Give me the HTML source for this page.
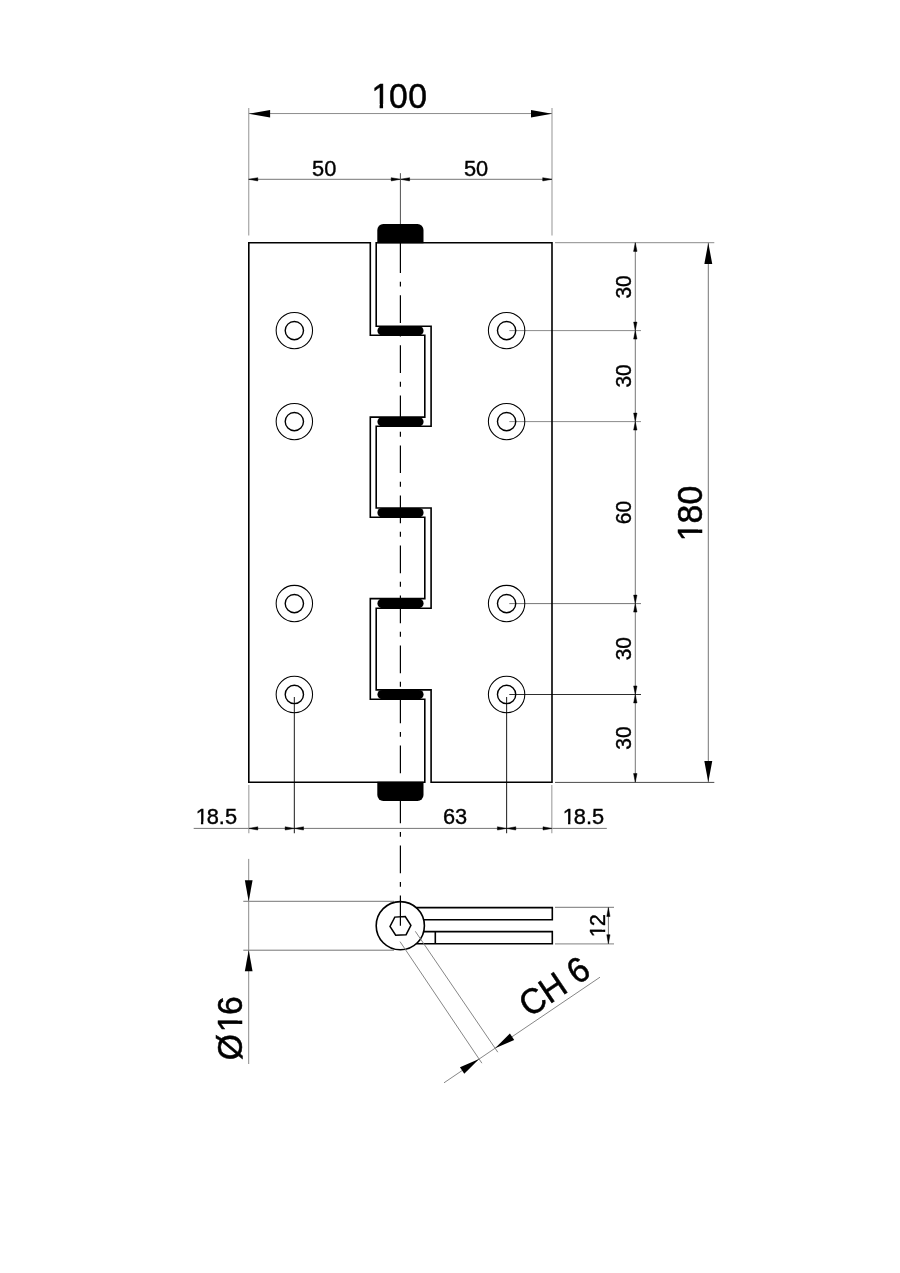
<!DOCTYPE html>
<html lang="en">
<head>
<meta charset="utf-8">
<title>Hinge 100x180 technical drawing</title>
<style>
html,body{margin:0;padding:0;background:#fff;}
body{width:900px;height:1273px;overflow:hidden;}
svg{display:block;will-change:transform;}
text{font-family:"Liberation Sans",sans-serif;fill:#000;}
</style>
</head>
<body>
<svg width="900" height="1273" viewBox="0 0 900 1273">
<line x1="248.70" y1="108.00" x2="248.70" y2="235.50" stroke="#adadad" stroke-width="1.3" />
<line x1="552.00" y1="107.90" x2="552.00" y2="235.50" stroke="#adadad" stroke-width="1.3" />
<line x1="248.80" y1="113.55" x2="552.00" y2="113.55" stroke="#8c8c8c" stroke-width="1.0" />
<polygon points="248.80,113.75 270.10,117.55 270.10,109.95" fill="#000"/>
<polygon points="552.00,113.75 531.00,109.95 531.00,117.55" fill="#000"/>
<line x1="248.80" y1="179.30" x2="552.00" y2="179.30" stroke="#6e6e6e" stroke-width="0.95" />
<polygon points="248.60,179.30 257.80,180.95 257.80,177.65" fill="#000" stroke="#000" stroke-width="0.45" stroke-linejoin="round"/>
<polygon points="400.40,179.30 391.20,177.65 391.20,180.95" fill="#000" stroke="#000" stroke-width="0.45" stroke-linejoin="round"/>
<polygon points="400.40,179.30 409.60,180.95 409.60,177.65" fill="#000" stroke="#000" stroke-width="0.45" stroke-linejoin="round"/>
<polygon points="551.90,179.30 542.70,177.65 542.70,180.95" fill="#000" stroke="#000" stroke-width="0.45" stroke-linejoin="round"/>
<line x1="555.00" y1="242.70" x2="714.30" y2="242.70" stroke="#8c8c8c" stroke-width="1.0" />
<line x1="555.00" y1="782.40" x2="714.30" y2="782.40" stroke="#4a4a4a" stroke-width="1.0" />
<line x1="635.30" y1="242.70" x2="635.30" y2="782.20" stroke="#6e6e6e" stroke-width="0.95" />
<line x1="708.30" y1="242.70" x2="708.30" y2="782.20" stroke="#6e6e6e" stroke-width="0.95" />
<polygon points="708.30,242.70 704.35,263.90 712.25,263.90" fill="#000"/>
<polygon points="708.30,782.20 712.25,761.00 704.35,761.00" fill="#000"/>
<polygon points="635.30,242.70 633.55,251.40 637.05,251.40" fill="#000" stroke="#000" stroke-width="0.45" stroke-linejoin="round"/>
<polygon points="635.30,782.20 637.05,773.50 633.55,773.50" fill="#000" stroke="#000" stroke-width="0.45" stroke-linejoin="round"/>
<line x1="509.30" y1="330.60" x2="641.00" y2="330.60" stroke="#8c8c8c" stroke-width="1.0" />
<polygon points="635.30,330.60 633.60,339.10 637.00,339.10" fill="#000" stroke="#000" stroke-width="0.45" stroke-linejoin="round"/>
<polygon points="635.30,330.60 637.00,322.10 633.60,322.10" fill="#000" stroke="#000" stroke-width="0.45" stroke-linejoin="round"/>
<line x1="509.30" y1="421.60" x2="641.00" y2="421.60" stroke="#8c8c8c" stroke-width="1.0" />
<polygon points="635.30,421.60 633.60,430.10 637.00,430.10" fill="#000" stroke="#000" stroke-width="0.45" stroke-linejoin="round"/>
<polygon points="635.30,421.60 637.00,413.10 633.60,413.10" fill="#000" stroke="#000" stroke-width="0.45" stroke-linejoin="round"/>
<line x1="509.30" y1="603.60" x2="641.00" y2="603.60" stroke="#6e6e6e" stroke-width="0.95" />
<polygon points="635.30,603.60 633.60,612.10 637.00,612.10" fill="#000" stroke="#000" stroke-width="0.45" stroke-linejoin="round"/>
<polygon points="635.30,603.60 637.00,595.10 633.60,595.10" fill="#000" stroke="#000" stroke-width="0.45" stroke-linejoin="round"/>
<line x1="509.30" y1="694.45" x2="641.00" y2="694.45" stroke="#2e2e2e" stroke-width="1.1" />
<polygon points="635.30,694.45 633.60,702.95 637.00,702.95" fill="#000" stroke="#000" stroke-width="0.45" stroke-linejoin="round"/>
<polygon points="635.30,694.45 637.00,685.95 633.60,685.95" fill="#000" stroke="#000" stroke-width="0.45" stroke-linejoin="round"/>
<line x1="193.70" y1="828.40" x2="606.80" y2="828.40" stroke="#6e6e6e" stroke-width="0.95" />
<line x1="248.80" y1="785.00" x2="248.80" y2="833.30" stroke="#adadad" stroke-width="1.3" />
<line x1="551.80" y1="785.00" x2="551.80" y2="833.30" stroke="#adadad" stroke-width="1.3" />
<line x1="294.35" y1="696.95" x2="294.35" y2="833.30" stroke="#2e2e2e" stroke-width="1.1" />
<line x1="506.60" y1="696.95" x2="506.60" y2="833.30" stroke="#2e2e2e" stroke-width="1.1" />
<polygon points="248.80,828.40 257.80,830.05 257.80,826.75" fill="#000" stroke="#000" stroke-width="0.45" stroke-linejoin="round"/>
<polygon points="294.35,828.40 285.15,826.75 285.15,830.05" fill="#000" stroke="#000" stroke-width="0.45" stroke-linejoin="round"/>
<polygon points="294.35,828.40 303.55,830.05 303.55,826.75" fill="#000" stroke="#000" stroke-width="0.45" stroke-linejoin="round"/>
<polygon points="506.60,828.40 497.40,826.75 497.40,830.05" fill="#000" stroke="#000" stroke-width="0.45" stroke-linejoin="round"/>
<polygon points="506.60,828.40 515.80,830.05 515.80,826.75" fill="#000" stroke="#000" stroke-width="0.45" stroke-linejoin="round"/>
<polygon points="552.00,828.40 543.00,826.75 543.00,830.05" fill="#000" stroke="#000" stroke-width="0.45" stroke-linejoin="round"/>
<line x1="400.40" y1="173.20" x2="400.40" y2="226.00" stroke="#505050" stroke-width="1.0" />
<line x1="400.40" y1="243.00" x2="400.40" y2="273.03" stroke="#000" stroke-width="1.2" />
<line x1="400.40" y1="281.70" x2="400.40" y2="286.60" stroke="#000" stroke-width="1.2" />
<line x1="400.40" y1="295.35" x2="400.40" y2="323.05" stroke="#000" stroke-width="1.2" />
<line x1="400.40" y1="331.72" x2="400.40" y2="336.62" stroke="#000" stroke-width="1.2" />
<line x1="400.40" y1="345.37" x2="400.40" y2="373.07" stroke="#000" stroke-width="1.2" />
<line x1="400.40" y1="381.74" x2="400.40" y2="386.64" stroke="#000" stroke-width="1.2" />
<line x1="400.40" y1="395.39" x2="400.40" y2="423.09" stroke="#000" stroke-width="1.2" />
<line x1="400.40" y1="431.76" x2="400.40" y2="436.66" stroke="#000" stroke-width="1.2" />
<line x1="400.40" y1="445.41" x2="400.40" y2="473.11" stroke="#000" stroke-width="1.2" />
<line x1="400.40" y1="481.78" x2="400.40" y2="486.68" stroke="#000" stroke-width="1.2" />
<line x1="400.40" y1="495.43" x2="400.40" y2="523.13" stroke="#000" stroke-width="1.2" />
<line x1="400.40" y1="531.80" x2="400.40" y2="536.70" stroke="#000" stroke-width="1.2" />
<line x1="400.40" y1="545.45" x2="400.40" y2="573.15" stroke="#000" stroke-width="1.2" />
<line x1="400.40" y1="581.82" x2="400.40" y2="586.72" stroke="#000" stroke-width="1.2" />
<line x1="400.40" y1="595.47" x2="400.40" y2="623.17" stroke="#000" stroke-width="1.2" />
<line x1="400.40" y1="631.84" x2="400.40" y2="636.74" stroke="#000" stroke-width="1.2" />
<line x1="400.40" y1="645.49" x2="400.40" y2="673.19" stroke="#000" stroke-width="1.2" />
<line x1="400.40" y1="681.86" x2="400.40" y2="686.76" stroke="#000" stroke-width="1.2" />
<line x1="400.40" y1="695.51" x2="400.40" y2="723.21" stroke="#000" stroke-width="1.2" />
<line x1="400.40" y1="731.88" x2="400.40" y2="736.78" stroke="#000" stroke-width="1.2" />
<line x1="400.40" y1="745.53" x2="400.40" y2="773.23" stroke="#000" stroke-width="1.2" />
<line x1="400.40" y1="781.90" x2="400.40" y2="786.80" stroke="#000" stroke-width="1.2" />
<line x1="400.40" y1="795.55" x2="400.40" y2="823.25" stroke="#000" stroke-width="1.2" />
<line x1="400.40" y1="831.92" x2="400.40" y2="836.82" stroke="#000" stroke-width="1.2" />
<line x1="400.40" y1="845.57" x2="400.40" y2="873.27" stroke="#000" stroke-width="1.2" />
<line x1="400.40" y1="881.94" x2="400.40" y2="886.84" stroke="#000" stroke-width="1.2" />
<line x1="400.40" y1="895.59" x2="400.40" y2="925.80" stroke="#000" stroke-width="1.2" />
<path d="M248.80,242.70 L370.30,242.70 L370.30,335.30 L424.80,335.30 L424.80,417.10 L370.30,417.10 L370.30,517.30 L424.80,517.30 L424.80,598.60 L370.30,598.60 L370.30,699.20 L424.80,699.20 L424.80,782.20 L248.80,782.20 Z" fill="none" stroke="#000" stroke-width="1.6" stroke-linejoin="miter"/>
<path d="M552.00,242.70 L376.20,242.70 L376.20,326.25 L431.10,326.25 L431.10,426.30 L376.20,426.30 L376.20,508.00 L431.10,508.00 L431.10,608.20 L376.20,608.20 L376.20,689.90 L431.10,689.90 L431.10,782.20 L552.00,782.20 Z" fill="none" stroke="#000" stroke-width="1.6" stroke-linejoin="miter"/>
<path d="M377.3,243.2 L377.3,229.9 A6.0,6.0 0 0 1 383.3,223.9 L417.5,223.9 A6.0,6.0 0 0 1 423.5,229.9 L423.5,243.2 Z" fill="#000"/>
<path d="M377.3,781.7 L377.3,794.9 A6.0,6.0 0 0 0 383.3,800.9 L417.5,800.9 A6.0,6.0 0 0 0 423.5,794.9 L423.5,781.7 Z" fill="#000"/>
<rect x="377.4" y="326.25" width="46.2" height="9.05" rx="4.53" ry="4.53" fill="#000"/>
<rect x="377.4" y="417.10" width="46.2" height="9.20" rx="4.60" ry="4.60" fill="#000"/>
<rect x="377.4" y="508.00" width="46.2" height="9.30" rx="4.65" ry="4.65" fill="#000"/>
<rect x="377.4" y="598.60" width="46.2" height="9.60" rx="4.80" ry="4.80" fill="#000"/>
<rect x="377.4" y="689.90" width="46.2" height="9.30" rx="4.65" ry="4.65" fill="#000"/>
<circle cx="294.35" cy="330.6" r="18.2" fill="none" stroke="#000" stroke-width="1.05"/>
<circle cx="294.35" cy="330.6" r="9.15" fill="none" stroke="#000" stroke-width="1.4"/>
<circle cx="294.35" cy="421.6" r="18.2" fill="none" stroke="#000" stroke-width="1.05"/>
<circle cx="294.35" cy="421.6" r="9.15" fill="none" stroke="#000" stroke-width="1.4"/>
<circle cx="294.35" cy="603.6" r="18.2" fill="none" stroke="#000" stroke-width="1.05"/>
<circle cx="294.35" cy="603.6" r="9.15" fill="none" stroke="#000" stroke-width="1.4"/>
<circle cx="294.35" cy="694.45" r="18.2" fill="none" stroke="#000" stroke-width="1.05"/>
<circle cx="294.35" cy="694.45" r="9.15" fill="none" stroke="#000" stroke-width="1.4"/>
<circle cx="506.6" cy="330.6" r="18.2" fill="none" stroke="#000" stroke-width="1.05"/>
<circle cx="506.6" cy="330.6" r="9.15" fill="none" stroke="#000" stroke-width="1.4"/>
<circle cx="506.6" cy="421.6" r="18.2" fill="none" stroke="#000" stroke-width="1.05"/>
<circle cx="506.6" cy="421.6" r="9.15" fill="none" stroke="#000" stroke-width="1.4"/>
<circle cx="506.6" cy="603.6" r="18.2" fill="none" stroke="#000" stroke-width="1.05"/>
<circle cx="506.6" cy="603.6" r="9.15" fill="none" stroke="#000" stroke-width="1.4"/>
<circle cx="506.6" cy="694.45" r="18.2" fill="none" stroke="#000" stroke-width="1.05"/>
<circle cx="506.6" cy="694.45" r="9.15" fill="none" stroke="#000" stroke-width="1.4"/>
<line x1="243.30" y1="901.30" x2="394.00" y2="901.30" stroke="#6e6e6e" stroke-width="0.95" />
<line x1="243.30" y1="950.20" x2="394.00" y2="950.20" stroke="#6e6e6e" stroke-width="0.95" />
<line x1="248.70" y1="858.90" x2="248.70" y2="1064.00" stroke="#8c8c8c" stroke-width="1.0" />
<polygon points="248.70,901.50 252.55,880.20 244.85,880.20" fill="#000"/>
<polygon points="248.70,950.00 244.85,971.30 252.55,971.30" fill="#000"/>
<path d="M416.21,907.6 L552.3,907.6 L552.3,919.7 L423.64,919.7" fill="none" stroke="#000" stroke-width="1.6"/>
<path d="M423.67,931.6 L552.3,931.6 L552.3,943.8 L416.21,943.8" fill="none" stroke="#000" stroke-width="1.6"/>
<line x1="435.30" y1="931.60" x2="435.30" y2="943.80" stroke="#000" stroke-width="1.6" />
<circle cx="400.3" cy="925.7" r="24.1" fill="none" stroke="#000" stroke-width="1.6"/>
<polygon points="410.89,925.39 406.11,934.68 395.67,935.19 390.01,926.41 394.79,917.12 405.23,916.61" fill="none" stroke="#000" stroke-width="1.5"/>
<line x1="555.00" y1="907.30" x2="614.00" y2="907.30" stroke="#6e6e6e" stroke-width="0.95" />
<line x1="555.00" y1="943.80" x2="614.00" y2="943.80" stroke="#9a9a9a" stroke-width="1.3" />
<line x1="608.40" y1="907.30" x2="608.40" y2="943.80" stroke="#6e6e6e" stroke-width="0.95" />
<polygon points="608.40,907.50 606.75,916.50 610.05,916.50" fill="#000" stroke="#000" stroke-width="0.45" stroke-linejoin="round"/>
<polygon points="608.40,943.70 610.05,934.70 606.75,934.70" fill="#000" stroke="#000" stroke-width="0.45" stroke-linejoin="round"/>
<line x1="400.00" y1="941.60" x2="481.90" y2="1063.20" stroke="#787878" stroke-width="0.9" />
<line x1="415.30" y1="931.30" x2="497.80" y2="1052.20" stroke="#787878" stroke-width="0.9" />
<line x1="444.00" y1="1082.80" x2="600.00" y2="977.20" stroke="#787878" stroke-width="0.9" />
<polygon points="479.10,1059.04 459.96,1067.34 464.28,1073.72" fill="#000"/>
<polygon points="495.08,1048.22 514.22,1039.92 509.90,1033.54" fill="#000"/>
<g transform="translate(398.60 108.00) scale(0.945 1)">
<text x="-28.79 -10.18 10.18" y="0" font-size="35.6" stroke="#000" stroke-width="0.5">100</text>
<rect x="-28.10" y="-4.08" width="8.01" height="6.17" fill="#fff"/>
<rect x="-16.44" y="-4.08" width="6.64" height="6.17" fill="#fff"/>
</g>
<g transform="translate(324.20 175.70) scale(0.973 1)">
<text x="-12.46 0.00" y="0" font-size="22.4" stroke="#000" stroke-width="0.4">50</text>
</g>
<g transform="translate(476.10 175.70) scale(0.973 1)">
<text x="-12.46 0.00" y="0" font-size="22.4" stroke="#000" stroke-width="0.4">50</text>
</g>
<g transform="translate(631.20 286.90) rotate(-90) scale(0.935 1)">
<text x="-12.46 0.00" y="0" font-size="22.4" stroke="#000" stroke-width="0.4">30</text>
</g>
<g transform="translate(631.20 375.90) rotate(-90) scale(0.935 1)">
<text x="-12.46 0.00" y="0" font-size="22.4" stroke="#000" stroke-width="0.4">30</text>
</g>
<g transform="translate(631.20 648.70) rotate(-90) scale(0.935 1)">
<text x="-12.46 0.00" y="0" font-size="22.4" stroke="#000" stroke-width="0.4">30</text>
</g>
<g transform="translate(631.20 738.10) rotate(-90) scale(0.935 1)">
<text x="-12.46 0.00" y="0" font-size="22.4" stroke="#000" stroke-width="0.4">30</text>
</g>
<g transform="translate(631.20 512.50) rotate(-90) scale(0.935 1)">
<text x="-12.46 0.00" y="0" font-size="22.4" stroke="#000" stroke-width="0.4">60</text>
</g>
<g transform="translate(702.20 514.00) rotate(-90) scale(0.945 1)">
<text x="-28.79 -10.18 10.18" y="0" font-size="35.6" stroke="#000" stroke-width="0.5">180</text>
<rect x="-28.10" y="-4.08" width="8.01" height="6.17" fill="#fff"/>
<rect x="-16.44" y="-4.08" width="6.64" height="6.17" fill="#fff"/>
</g>
<g transform="translate(215.80 824.20) scale(0.973 1)">
<text x="-20.70 -9.34 3.12 9.34" y="0" font-size="22.4" stroke="#000" stroke-width="0.4">18.5</text>
<rect x="-20.27" y="-2.57" width="5.00" height="3.88" fill="#fff"/>
<rect x="-12.89" y="-2.57" width="4.18" height="3.88" fill="#fff"/>
</g>
<g transform="translate(455.00 824.20) scale(0.973 1)">
<text x="-12.46 0.00" y="0" font-size="22.4" stroke="#000" stroke-width="0.4">63</text>
</g>
<g transform="translate(582.90 824.20) scale(0.973 1)">
<text x="-20.70 -9.34 3.12 9.34" y="0" font-size="22.4" stroke="#000" stroke-width="0.4">18.5</text>
<rect x="-20.27" y="-2.57" width="5.00" height="3.88" fill="#fff"/>
<rect x="-12.89" y="-2.57" width="4.18" height="3.88" fill="#fff"/>
</g>
<g transform="translate(604.60 926.20) rotate(-90) scale(0.973 1)">
<text x="-11.36 0.00" y="0" font-size="22.4" stroke="#000" stroke-width="0.4">12</text>
<rect x="-10.93" y="-2.57" width="5.00" height="3.88" fill="#fff"/>
<rect x="-3.55" y="-2.57" width="4.18" height="3.88" fill="#fff"/>
</g>
<g transform="translate(241.80 1028.20) rotate(-90) scale(0.945 1)">
<text x="-33.98 -4.27 13.98" y="0" font-size="35.6" stroke="#000" stroke-width="0.5">&#216;16</text>
<rect x="-3.58" y="-4.08" width="8.01" height="6.17" fill="#fff"/>
<rect x="8.07" y="-4.08" width="6.64" height="6.17" fill="#fff"/>
</g>
<g transform="translate(561.10 996.60) rotate(-34.09) scale(0.945 1)">
<text x="-40.55 -14.84 10.86 20.76" y="0" font-size="35.6" stroke="#000" stroke-width="0.5">CH 6</text>
</g>
</svg>
</body>
</html>
